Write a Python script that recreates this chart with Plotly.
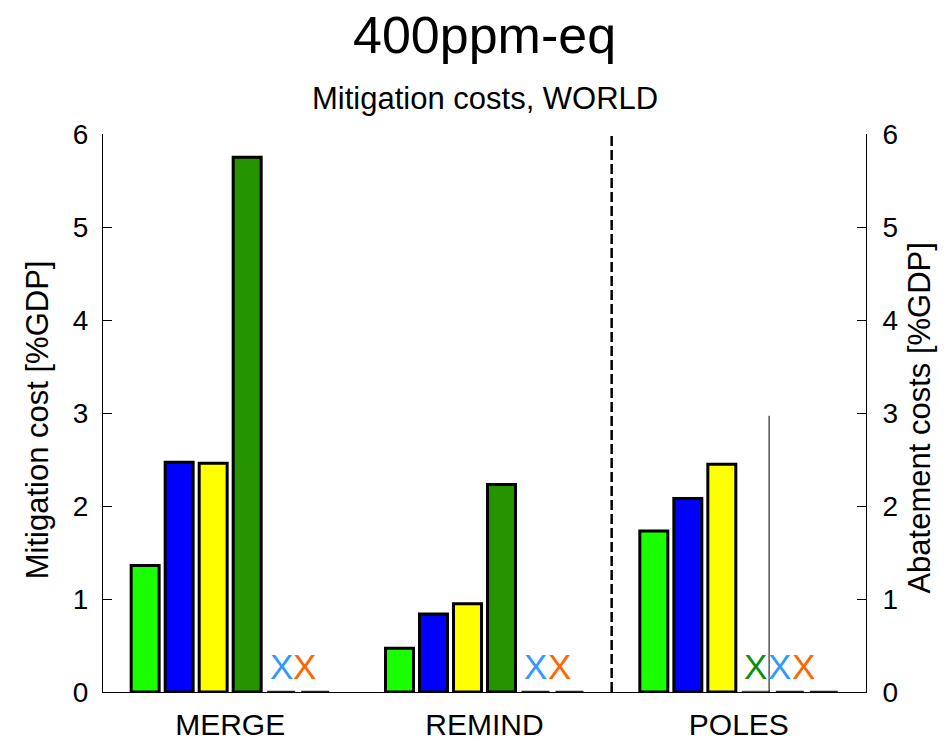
import plotly.graph_objects as go

# ---------------- data ----------------
models = ["MERGE", "REMIND", "POLES"]
group_pos = [1, 2, 3]
series_names = ["Scenario A", "Scenario B", "Scenario C", "Scenario D", "Scenario E", "Scenario F"]
# None = no result (marked with an X in the chart)
s_lightgreen = [1.36, 0.47, 1.73]
s_blue = [2.47, 0.84, 2.08]
s_yellow = [2.46, 0.95, 2.45]
s_darkgreen = [5.75, 2.23, None]
s_lightblue = [None, None, None]
s_orange = [None, None, None]
series_values = [s_lightgreen, s_blue, s_yellow, s_darkgreen, s_lightblue, s_orange]
bar_colors = ["#19ff00", "#0000ff", "#ffff00", "#259400", "#3399ff", "#ff6600"]
x_colors = ["#19ff00", "#0000ff", "#ffff00", "#0f8f0f", "#3399ff", "#ff6600"]
poles_range_line = [0.0, 2.97]   # thin vertical marker in the POLES group (y from..to)
poles_range_x_slot = 4.39        # slot position (1..6) of that marker
y_ticks = [0, 1, 2, 3, 4, 5, 6]

# ---------------- layout constants ----------------
n_series = len(series_names)
slot = 0.1337
bar_w = 0.110
x_step = 0.093
FONT = "Liberation Sans, Arial, Helvetica, sans-serif"


def slot_x(g, k):
    """x position of series k (0-based) in group g."""
    return group_pos[g] + (k - (n_series - 1) / 2) * slot


fig = go.Figure()

# bars
for k in range(n_series):
    xs, ys = [], []
    for g in range(len(models)):
        v = series_values[k][g]
        if v is not None:
            xs.append(slot_x(g, k))
            ys.append(v)
    if xs:
        fig.add_trace(go.Bar(
            x=xs, y=ys, width=bar_w, name=series_names[k],
            marker=dict(color=bar_colors[k], line=dict(color="black", width=3)),
            showlegend=False, hoverinfo="y",
        ))

# zero lines + X markers for missing values
annotations = []
for g in range(len(models)):
    missing = [k for k in range(n_series) if series_values[k][g] is None]
    for j, k in enumerate(missing):
        xc = slot_x(g, k)
        fig.add_trace(go.Scatter(
            x=[xc - bar_w / 2, xc + bar_w / 2], y=[0, 0], mode="lines",
            line=dict(color="#222222" if k != 3 else "#3a6a2a", width=2.5),
            showlegend=False, hoverinfo="skip",
        ))
        x0 = slot_x(g, missing[0])
        annotations.append(dict(
            x=x0 + j * x_step, y=0.27, xref="x", yref="y", text="X",
            showarrow=False, font=dict(family=FONT, size=35, color=x_colors[k]),
            xanchor="center", yanchor="middle",
        ))

# dashed separator between REMIND and POLES
sep_x = (group_pos[1] + group_pos[2]) / 2
fig.add_trace(go.Scatter(
    x=[sep_x, sep_x], y=[0, 6], mode="lines",
    line=dict(color="black", width=2.5, dash="10px,4px"),
    showlegend=False, hoverinfo="skip",
))

# thin vertical marker in POLES group (on right axis)
px = group_pos[2] + (poles_range_x_slot - 1 - (n_series - 1) / 2) * slot
fig.add_trace(go.Scatter(
    x=[px, px], y=poles_range_line, mode="lines", yaxis="y2",
    line=dict(color="black", width=1),
    showlegend=False, hoverinfo="skip",
))

# titles
annotations += [
    dict(text="400ppm-eq", x=0.5, y=1.178, xref="paper", yref="paper", showarrow=False,
         font=dict(family=FONT, size=52, color="black"), xanchor="center", yanchor="middle"),
    dict(text="Mitigation costs, WORLD", x=0.5, y=1.063, xref="paper", yref="paper", showarrow=False,
         font=dict(family=FONT, size=31, color="black"), xanchor="center", yanchor="middle"),
    dict(text="Mitigation cost [%GDP]", x=-0.0865, y=0.487, xref="paper", yref="paper",
         showarrow=False, textangle=-90,
         font=dict(family=FONT, size=31, color="black"), xanchor="center", yanchor="middle"),
    dict(text="Abatement costs [%GDP]", x=1.0708, y=0.49, xref="paper", yref="paper",
         showarrow=False, textangle=-90,
         font=dict(family=FONT, size=31, color="black"), xanchor="center", yanchor="middle"),
]

fig.update_layout(
    width=946, height=745,
    margin=dict(l=103, r=80, t=134, b=53, autoexpand=False),
    paper_bgcolor="white", plot_bgcolor="white",
    barmode="overlay",
    showlegend=False,
    font=dict(family=FONT, color="black"),
    xaxis=dict(
        range=[0.5, 3.5], tickvals=group_pos, ticktext=models, ticks="",
        showline=True, linecolor="black", linewidth=1, showgrid=False, zeroline=False,
        tickfont=dict(family=FONT, size=30, color="black"), ticklabelstandoff=6,
        automargin=False,
    ),
    yaxis=dict(
        range=[0, 6], tickvals=y_ticks, ticks="inside", ticklen=9, tickwidth=1,
        tickcolor="black", showline=True, linecolor="black", linewidth=1,
        showgrid=False, zeroline=False, automargin=False,
        tickfont=dict(family=FONT, size=28, color="black"), ticklabelstandoff=8,
    ),
    yaxis2=dict(
        range=[0, 6], tickvals=y_ticks, ticks="inside", ticklen=9, tickwidth=1,
        tickcolor="black", showline=True, linecolor="black", linewidth=1,
        showgrid=False, zeroline=False, overlaying="y", side="right", automargin=False,
        tickfont=dict(family=FONT, size=28, color="black"), ticklabelstandoff=10,
    ),
    annotations=annotations,
)

fig.write_html("out.html")
